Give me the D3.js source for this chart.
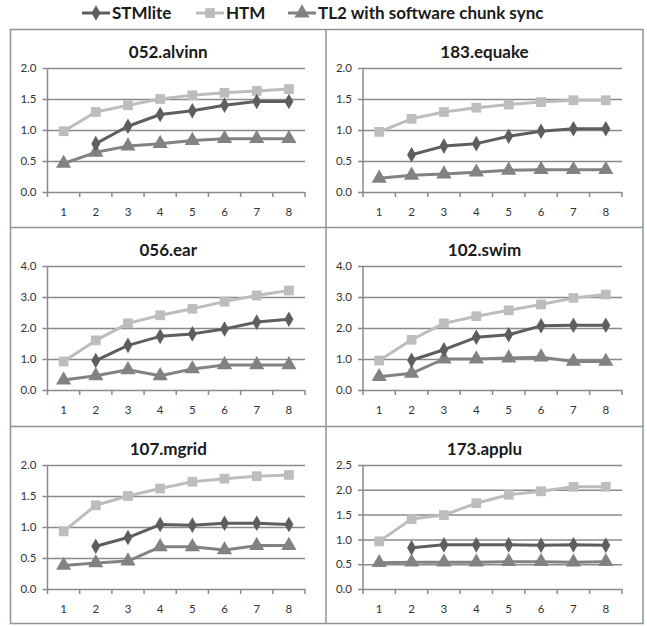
<!DOCTYPE html>
<html>
<head>
<meta charset="utf-8">
<script src="https://cdn.jsdelivr.net/npm/d3@7"></script>
<style>
  body { margin: 0; background: #fff; }
  text { font-family: Lato, "Open Sans", sans-serif; }
</style>
</head>
<body>
<script>
// chart data
var threads = [1, 2, 3, 4, 5, 6, 7, 8];
var benchmarks = ["052.alvinn", "183.equake", "056.ear", "102.swim", "107.mgrid", "173.applu"];
var yMax = [2.0, 2.0, 4.0, 4.0, 2.0, 2.5];
var yStep = [0.5, 0.5, 1.0, 1.0, 0.5, 0.5];
var seriesNames = ["STMlite", "HTM", "TL2 with software chunk sync"];

// STMlite has no value for 1 thread
var stmlite = [
    [null, 0.78, 1.06, 1.25, 1.31, 1.40, 1.46, 1.46],
    [null, 0.60, 0.74, 0.78, 0.90, 0.98, 1.02, 1.02],
    [null, 0.95, 1.44, 1.73, 1.81, 1.97, 2.19, 2.28],
    [null, 0.96, 1.30, 1.70, 1.78, 2.07, 2.09, 2.09],
    [null, 0.69, 0.83, 1.04, 1.03, 1.06, 1.06, 1.04],
    [null, 0.83, 0.89, 0.89, 0.89, 0.88, 0.89, 0.88]
];
var htm = [
    [0.98, 1.29, 1.40, 1.50, 1.56, 1.60, 1.63, 1.66],
    [0.97, 1.18, 1.29, 1.36, 1.41, 1.45, 1.48, 1.48],
    [0.92, 1.60, 2.15, 2.41, 2.62, 2.85, 3.05, 3.21],
    [0.95, 1.62, 2.15, 2.38, 2.57, 2.76, 2.97, 3.08],
    [0.93, 1.35, 1.50, 1.62, 1.73, 1.78, 1.82, 1.84],
    [0.96, 1.41, 1.49, 1.73, 1.90, 1.97, 2.06, 2.06]
];
var tl2 = [
    [0.46, 0.64, 0.74, 0.78, 0.83, 0.86, 0.86, 0.86],
    [0.22, 0.27, 0.29, 0.32, 0.35, 0.36, 0.36, 0.36],
    [0.32, 0.46, 0.65, 0.46, 0.68, 0.81, 0.81, 0.81],
    [0.43, 0.54, 1.00, 1.00, 1.03, 1.06, 0.92, 0.92],
    [0.38, 0.42, 0.45, 0.68, 0.68, 0.63, 0.70, 0.70],
    [0.53, 0.54, 0.54, 0.54, 0.55, 0.55, 0.54, 0.55]
];

// styling
var colors = ["#5e5e5e", "#bdbdbd", "#828282"];
var symbols = [d3.symbolDiamond, d3.symbolSquare, d3.symbolTriangle];
var symbolSizes = [70, 95, 100];
var gridColor = "#8a8a8a";

// layout of the panel grid
var colEdges = [10.5, 326, 643];
var rowEdges = [29.5, 227.5, 426.5, 623.5];

var svg = d3.select("body").append("svg")
    .attr("width", 647)
    .attr("height", 626);

// draw a marker shape
function marker(sel, i) {
    sel.attr("d", d3.symbol().type(symbols[i]).size(symbolSizes[i]))
       .attr("fill", colors[i]);
}

// legend at the top
var legendX = [82, 196, 288];
seriesNames.forEach(function(name, i) {
    var g = svg.append("g").attr("transform", "translate(" + legendX[i] + ",13)");
    g.append("line")
        .attr("x1", 0).attr("x2", 28)
        .attr("stroke", colors[i]).attr("stroke-width", 3);
    g.append("path")
        .attr("transform", "translate(14,0)")
        .call(marker, i);
    g.append("text")
        .attr("x", 30).attr("y", 6)
        .style("font-size", "17px")
        .style("font-weight", "bold")
        .attr("fill", "#1a1a1a")
        .text(name);
});

// panel borders
svg.append("rect")
    .attr("x", colEdges[0]).attr("y", rowEdges[0])
    .attr("width", colEdges[2] - colEdges[0])
    .attr("height", rowEdges[3] - rowEdges[0])
    .attr("fill", "none").attr("stroke", "#8e949a").attr("stroke-width", 1.5);
svg.append("line")
    .attr("x1", colEdges[1]).attr("x2", colEdges[1])
    .attr("y1", rowEdges[0]).attr("y2", rowEdges[3])
    .attr("stroke", "#8e949a").attr("stroke-width", 1.5);
[rowEdges[1], rowEdges[2]].forEach(function(y) {
    svg.append("line")
        .attr("x1", colEdges[0]).attr("x2", colEdges[2])
        .attr("y1", y).attr("y2", y)
        .attr("stroke", "#8e949a").attr("stroke-width", 1.5);
});

// draw each panel
benchmarks.forEach(function(name, p) {
    var col = p % 2;
    var row = Math.floor(p / 2);
    var left = colEdges[col];
    var right = colEdges[col + 1];
    var top = rowEdges[row];

    var plotLeft = left + 37;
    var plotRight = right - 21;
    var plotTop = top + 38.5;
    var plotBottom = top + 162.5;

    var g = svg.append("g");

    // title
    g.append("text")
        .attr("x", (left + right) / 2)
        .attr("y", top + 28)
        .attr("text-anchor", "middle")
        .style("font-size", "17px")
        .style("font-weight", "bold")
        .attr("fill", "#1a1a1a")
        .text(name);

    var x = d3.scaleBand()
        .domain(threads)
        .range([plotLeft, plotRight]);

    var y = d3.scaleLinear()
        .domain([0, yMax[p]])
        .range([plotBottom, plotTop]);

    var yTicks = d3.range(0, yMax[p] + yStep[p] / 2, yStep[p]);

    // y axis with gridlines
    var yAxis = d3.axisLeft(y)
        .tickValues(yTicks)
        .tickFormat(d3.format(".1f"))
        .tickSize(-(plotRight - plotLeft + 5))
        .tickPadding(6);

    var gy = g.append("g")
        .attr("transform", "translate(" + (plotLeft - 5) + ",0)")
        .call(yAxis);
    gy.select(".domain").remove();
    gy.selectAll("line").attr("stroke", gridColor).attr("stroke-width", 1.5);
    gy.selectAll("text")
        .style("font-size", "11.5px")
        .style("font-family", "Lato, sans-serif")
        .attr("fill", "#333");

    // vertical axis line
    g.append("line")
        .attr("x1", plotLeft).attr("x2", plotLeft)
        .attr("y1", plotTop).attr("y2", plotBottom + 5)
        .attr("stroke", gridColor).attr("stroke-width", 1.5);

    // tick marks between categories
    g.selectAll(".xtick")
        .data(threads)
        .enter().append("line")
        .attr("x1", function(d) { return x(d) + x.bandwidth(); })
        .attr("x2", function(d) { return x(d) + x.bandwidth(); })
        .attr("y1", plotBottom).attr("y2", plotBottom + 5)
        .attr("stroke", gridColor).attr("stroke-width", 1.5);

    // x labels
    var xAxis = d3.axisBottom(x).tickSize(0).tickPadding(16);
    var gx = g.append("g")
        .attr("transform", "translate(0," + plotBottom + ")")
        .call(xAxis);
    gx.select(".domain").remove();
    gx.selectAll("text")
        .style("font-size", "11.5px")
        .style("font-family", "Lato, sans-serif")
        .attr("fill", "#333");

    // series, drawn light to dark so HTM sits under the others
    var allSeries = [stmlite[p], htm[p], tl2[p]];
    [1, 2, 0].forEach(function(i) {
        var pts = threads.map(function(t, k) { return [t, allSeries[i][k]]; })
            .filter(function(d) { return d[1] !== null; });

        var line = d3.line()
            .x(function(d) { return x(d[0]) + x.bandwidth() / 2; })
            .y(function(d) { return y(d[1]); });

        g.append("path")
            .datum(pts)
            .attr("d", line)
            .attr("fill", "none")
            .attr("stroke", colors[i])
            .attr("stroke-width", 3)
            .attr("stroke-linejoin", "round");

        g.selectAll(".m" + i)
            .data(pts)
            .enter().append("path")
            .attr("class", "m" + i)
            .attr("transform", function(d) {
                return "translate(" + (x(d[0]) + x.bandwidth() / 2) + "," + y(d[1]) + ")";
            })
            .call(marker, i);
    });
});
</script>
</body>
</html>
